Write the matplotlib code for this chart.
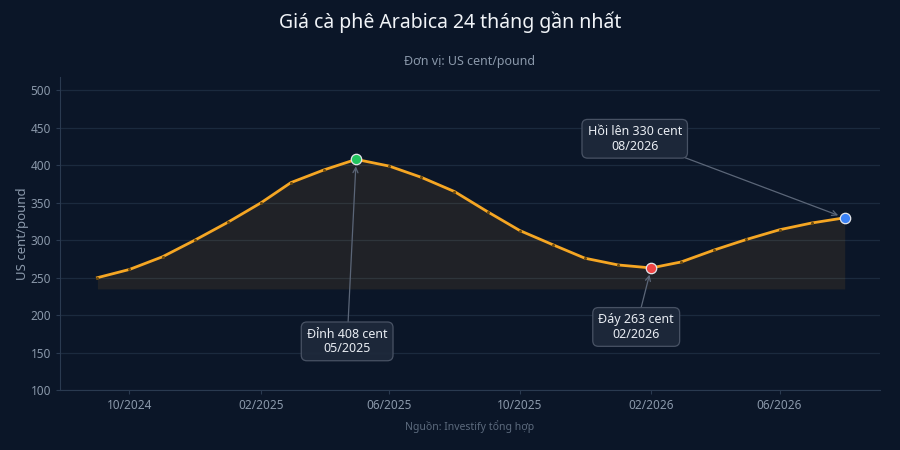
import matplotlib

matplotlib.use("Agg")
import matplotlib.dates as mdates
import matplotlib.pyplot as plt
import numpy as np

# monthly Arabica prices (US cent/pound), 09/2024 -> 08/2026
months = [
    "2024-09", "2024-10", "2024-11", "2024-12", "2025-01", "2025-02",
    "2025-03", "2025-04", "2025-05", "2025-06", "2025-07", "2025-08",
    "2025-09", "2025-10", "2025-11", "2025-12", "2026-01", "2026-02",
    "2026-03", "2026-04", "2026-05", "2026-06", "2026-07", "2026-08",
]
prices = [
    250, 261, 278, 300, 324, 350, 377, 394, 408, 399, 384, 365,
    338, 313, 294, 276, 267, 263, 271, 287, 301, 314, 323, 330,
]
fill_base = 235

# highlighted points: month, label, dot colour
marked_months = ["2025-05", "2026-02", "2026-08"]
marked_labels = ["Đỉnh 408 cent\n05/2025", "Đáy 263 cent\n02/2026", "Hồi lên 330 cent\n08/2026"]
marked_colors = ["#22c55e", "#ef4444", "#3b82f6"]

title = "Giá cà phê Arabica 24 tháng gần nhất"
subtitle = "Đơn vị: US cent/pound"
source = "Nguồn: Investify tổng hợp"

BG = "#0b1628"
ORANGE = "#f5a623"
MUTED = "#8a98aa"

plt.rcParams["font.family"] = ["Noto Sans", "DejaVu Sans"]

dates = np.array([np.datetime64(m + "-01") for m in months])
y = np.array(prices, dtype=float)

fig = plt.figure(figsize=(9, 4.5), dpi=100, facecolor=BG)
ax = fig.add_axes([60 / 900, 60 / 450, 820 / 900, 313 / 450])
ax.set_facecolor(BG)

ax.fill_between(dates, fill_base, y, color=ORANGE, alpha=0.09, linewidth=0)
ax.plot(dates, y, color=ORANGE, linewidth=2.0, marker="o", markersize=2.2,
        markerfacecolor="#6b4a10", markeredgewidth=0, zorder=3)

box = dict(boxstyle="round,pad=0.45", facecolor="#1e293b", edgecolor="#4b5567",
           linewidth=0.9, alpha=0.95)
arrow = dict(arrowstyle="->", color="#5b6678", linewidth=0.9, shrinkA=0, shrinkB=5)
# label box offsets in pixels from the point
offsets = [(-9, -182), (-15, -59), (-210, 79)]

for m, label, c, off in zip(marked_months, marked_labels, marked_colors, offsets):
    i = months.index(m)
    ax.plot(dates[i], y[i], "o", markersize=7.5, color=c,
            markeredgecolor="#e5e7eb", markeredgewidth=0.9, zorder=5)
    ax.annotate(label, xy=(dates[i], y[i]), xytext=off, textcoords="offset pixels",
                ha="center", va="center", fontsize=9, color="#e8ecf2",
                linespacing=1.15, bbox=box, arrowprops=arrow, zorder=6)

ax.set_xlim(np.datetime64("2024-07-28"), np.datetime64("2026-09-03"))
ax.set_ylim(100, 518)
ax.set_yticks(np.arange(100, 501, 50))
ax.xaxis.set_major_locator(mdates.MonthLocator(bymonth=[2, 6, 10]))
ax.xaxis.set_major_formatter(mdates.DateFormatter("%m/%Y"))

ax.grid(axis="y", color="#1b2a3e", linewidth=0.9)
ax.set_axisbelow(True)
for side in ["top", "right"]:
    ax.spines[side].set_visible(False)
for side in ["left", "bottom"]:
    ax.spines[side].set_color("#2a3a50")
ax.tick_params(colors="#2a3a50", labelcolor=MUTED, labelsize=8.5, length=3)
ax.set_ylabel("US cent/pound", color=MUTED, fontsize=9.5, labelpad=1)

fig.text(0.5, 1 - 22 / 450, title, ha="center", va="center", color="#f1f4f8", fontsize=14)
fig.text(470 / 900, 1 - 62 / 450, subtitle, ha="center", va="center", color=MUTED, fontsize=9)
fig.text(470 / 900, 1 - 427 / 450, source, ha="center", va="center", color="#5c6a7d", fontsize=7.5)

fig.savefig("out.png", dpi=100, facecolor=BG)
